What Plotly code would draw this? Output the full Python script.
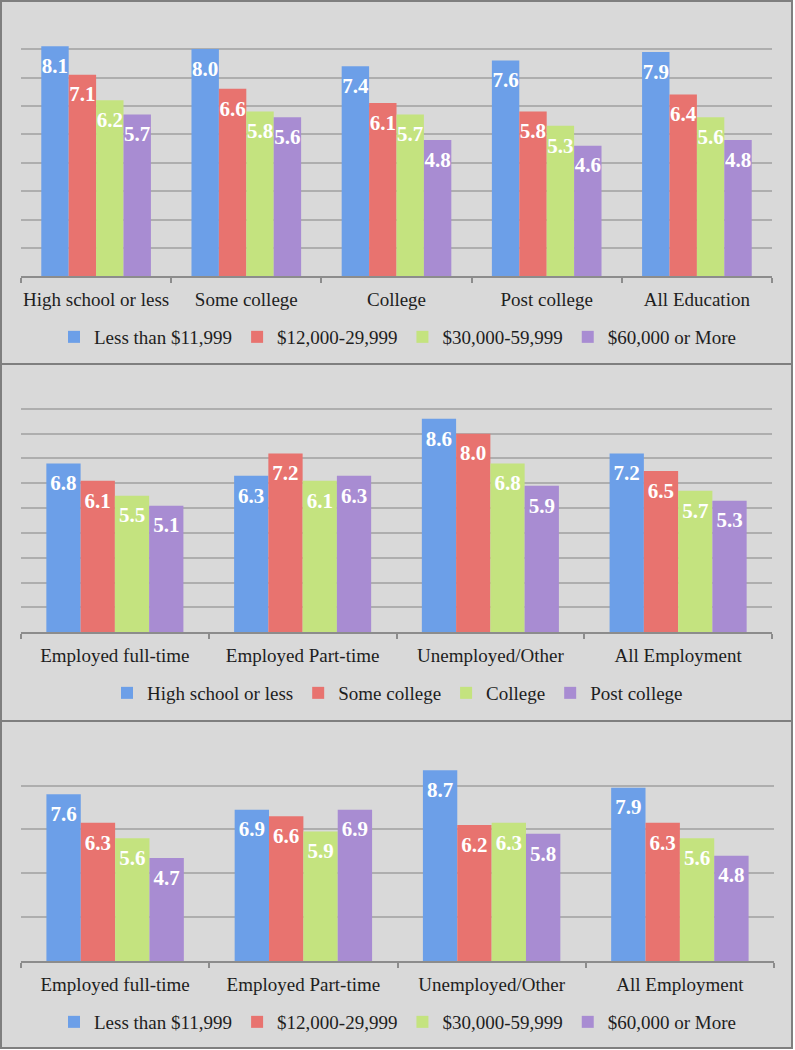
import plotly.graph_objects as go

# ---------------- data ----------------
edu_categories = ["High school or less", "Some college", "College", "Post college", "All Education"]
emp_categories = ["Employed full-time", "Employed Part-time", "Unemployed/Other", "All Employment"]

income_names = ["Less than $11,999", "$12,000-29,999", "$30,000-59,999", "$60,000 or More"]
education_names = ["High school or less", "Some college", "College", "Post college"]

# Panel 1: by education, series = income
p1_less_11999 = [8.1, 8.0, 7.4, 7.6, 7.9]
p1_12000_29999 = [7.1, 6.6, 6.1, 5.8, 6.4]
p1_30000_59999 = [6.2, 5.8, 5.7, 5.3, 5.6]
p1_60000_more = [5.7, 5.6, 4.8, 4.6, 4.8]

# Panel 2: by employment, series = education
p2_high_school = [6.8, 6.3, 8.6, 7.2]
p2_some_college = [6.1, 7.2, 8.0, 6.5]
p2_college = [5.5, 6.1, 6.8, 5.7]
p2_post_college = [5.1, 6.3, 5.9, 5.3]

# Panel 3: by employment, series = income
p3_less_11999 = [7.6, 6.9, 8.7, 7.9]
p3_12000_29999 = [6.3, 6.6, 6.2, 6.3]
p3_30000_59999 = [5.6, 5.9, 6.3, 5.6]
p3_60000_more = [4.7, 6.9, 5.8, 4.8]

colors = ["#6C9FE8", "#E8736F", "#C4E37F", "#A88CD2"]

FONT = "Liberation Serif"
W, H = 795, 1050

panels = [
    dict(cats=edu_categories, names=income_names,
         series=[p1_less_11999, p1_12000_29999, p1_30000_59999, p1_60000_more],
         xa="x", ya="y", legend="legend"),
    dict(cats=emp_categories, names=education_names,
         series=[p2_high_school, p2_some_college, p2_college, p2_post_college],
         xa="x2", ya="y2", legend="legend2"),
    dict(cats=emp_categories, names=income_names,
         series=[p3_less_11999, p3_12000_29999, p3_30000_59999, p3_60000_more],
         xa="x3", ya="y3", legend="legend3"),
]

fig = go.Figure()
for p in panels:
    for i, (name, vals) in enumerate(zip(p["names"], p["series"])):
        fig.add_trace(go.Bar(
            x=p["cats"], y=vals, name=name,
            marker=dict(color=colors[i], line=dict(width=0)),
            offsetgroup=str(i),
            xaxis=p["xa"], yaxis=p["ya"], legend=p["legend"],
            hoverinfo="x+y+name",
        ))
    for i, vals in enumerate(p["series"]):
        fig.add_trace(go.Scatter(
            x=p["cats"], y=vals, mode="markers+text",
            text=[f"{v:.1f}" for v in vals],
            textposition="bottom center",
            textfont=dict(family=FONT, size=21, color="white", weight="bold"),
            marker=dict(size=16, opacity=0),
            offsetgroup=str(i),
            xaxis=p["xa"], yaxis=p["ya"], showlegend=False, hoverinfo="skip",
        ))

def py(px):
    return 1 - px / H

panel_px = [(1, 364), (364, 721), (721, 1048)]
shapes = []
for top, bot in panel_px:
    shapes.append(dict(type="rect", xref="paper", yref="paper",
                       x0=1 / W, x1=792 / W, y0=py(bot), y1=py(top),
                       fillcolor="#D9D9D9", line=dict(color="#7F7F7F", width=2),
                       layer="below"))

xcommon = dict(showline=True, linecolor="#8C8C8C", linewidth=1.5,
               ticks="outside", tickson="boundaries", ticklen=5,
               tickcolor="#8C8C8C", tickwidth=1.5, showgrid=False,
               tickangle=0, ticklabelstandoff=5,
               tickfont=dict(family=FONT, size=19, color="#1E1E1E"),
               fixedrange=True)
ycommon = dict(showticklabels=False, showgrid=True, gridcolor="#AEAEAE",
               gridwidth=1.5, zeroline=False, showline=False, ticks="",
               fixedrange=True)

legcommon = dict(orientation="h", xanchor="center", x=0.5, yanchor="middle",
                 bgcolor="rgba(0,0,0,0)", font=dict(family=FONT, size=19, color="#1E1E1E"),
                 traceorder="normal")

fig.update_layout(
    width=W, height=H,
    margin=dict(l=0, r=0, t=0, b=0),
    paper_bgcolor="white", plot_bgcolor="rgba(0,0,0,0)",
    barmode="group", bargap=0.27, bargroupgap=0,
    scattermode="group", scattergap=0.27,
    shapes=shapes,
    xaxis=dict(domain=[21 / W, 772 / W], anchor="y", **xcommon),
    yaxis=dict(domain=[py(276.3), py(20.7)], range=[0, 9], dtick=1, anchor="x", **ycommon),
    xaxis2=dict(domain=[21 / W, 772 / W], anchor="y2", **xcommon),
    yaxis2=dict(domain=[py(632.3), py(384)], range=[0, 10], dtick=1, anchor="x2", **ycommon),
    xaxis3=dict(domain=[21 / W, 774 / W], anchor="y3", **xcommon),
    yaxis3=dict(domain=[py(961), py(741.7)], range=[0, 10], dtick=2, anchor="x3", **ycommon),
    legend=dict(y=py(337), **legcommon),
    legend2=dict(y=py(693), **legcommon),
    legend3=dict(y=py(1022), **legcommon),
    showlegend=True,
)

fig.write_html("out.html",
               config={"displayModeBar": False},
               post_script="document.body.style.margin='0';document.body.style.overflow='hidden';")
